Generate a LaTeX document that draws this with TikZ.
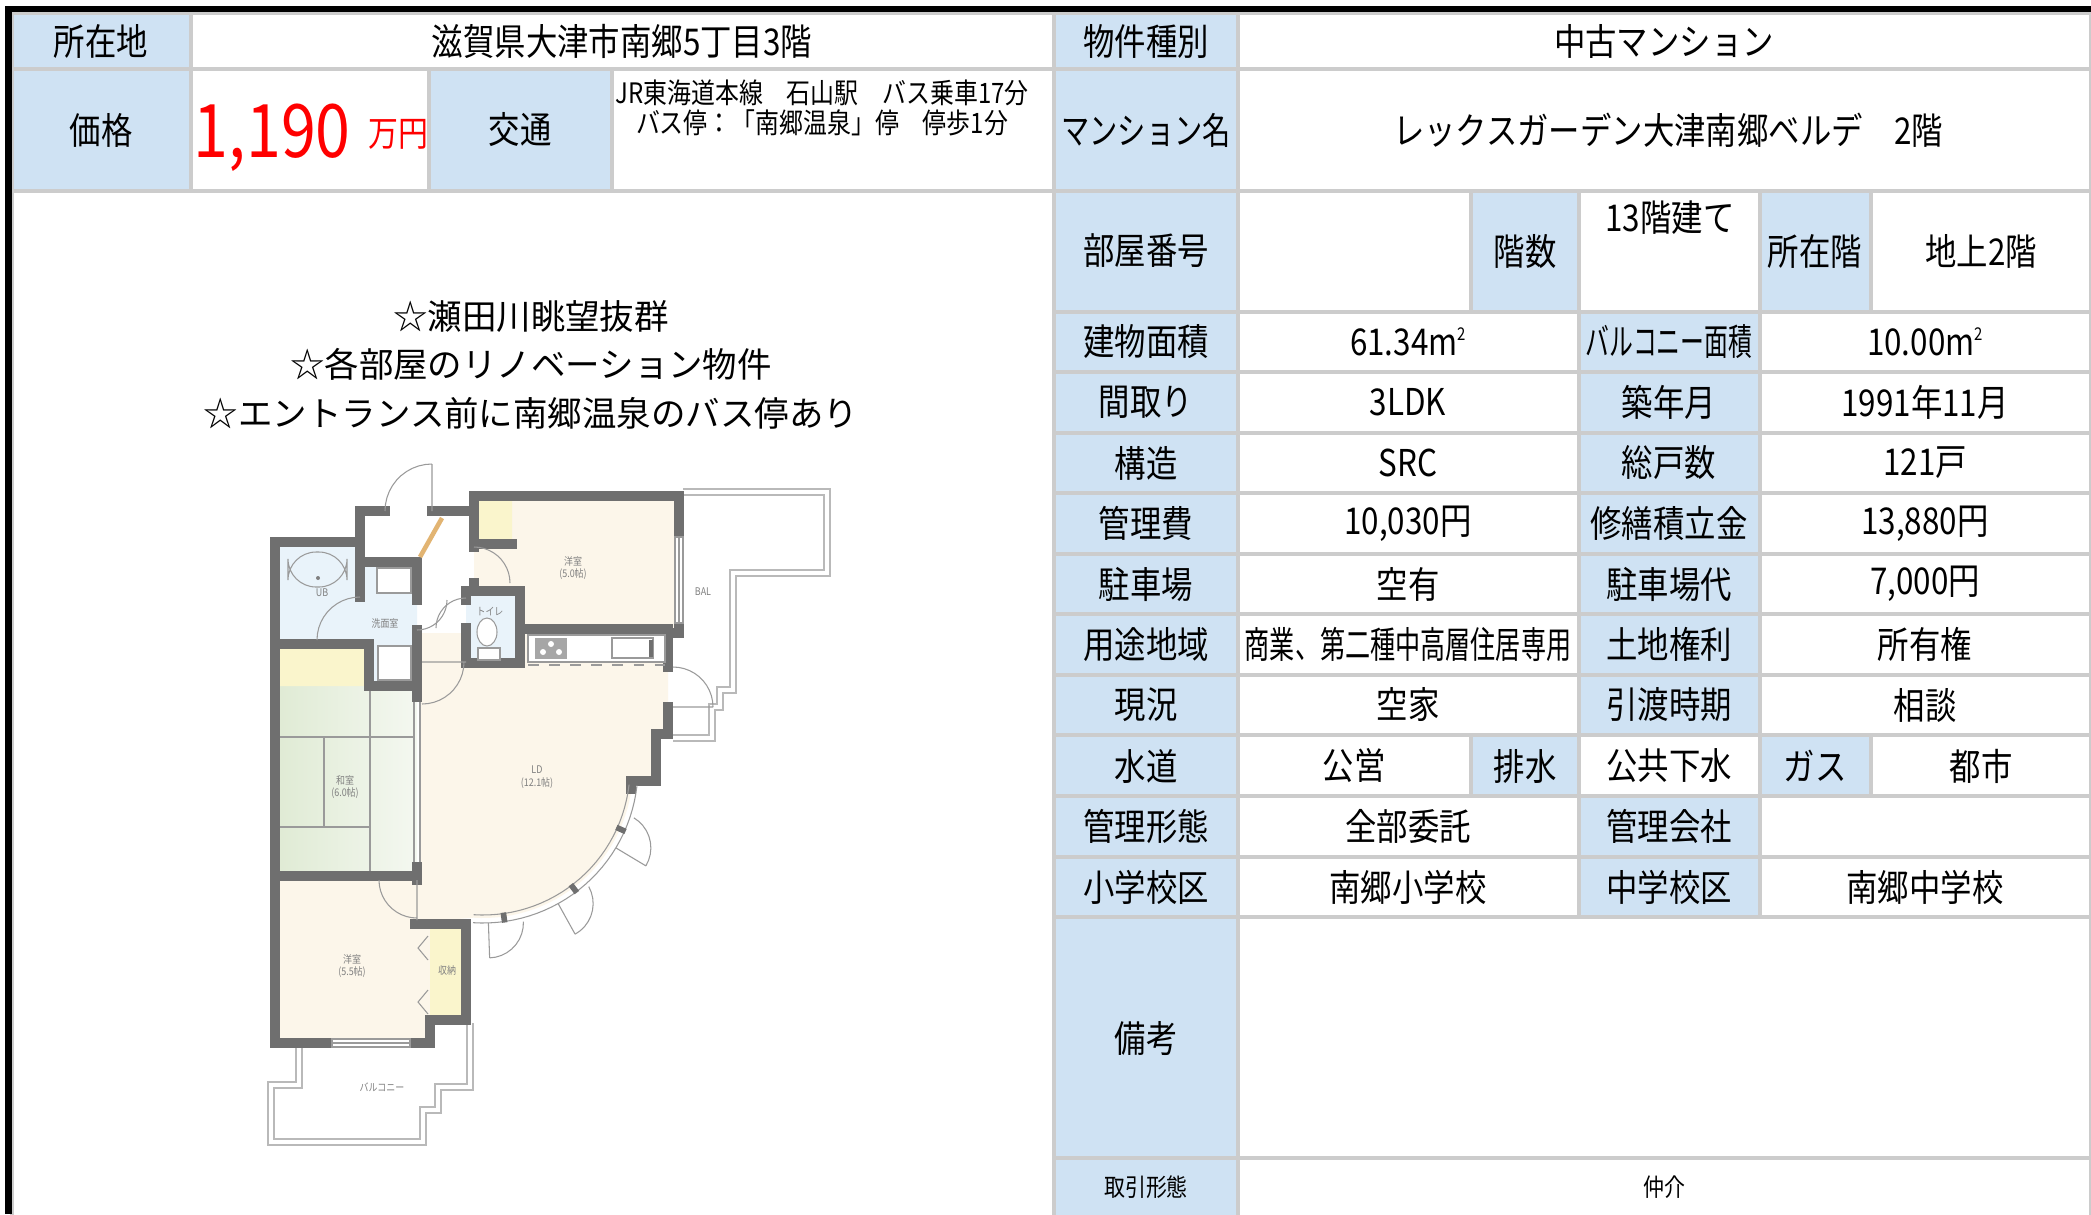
\documentclass[tikz,border=0pt]{standalone}
\usepackage{fontspec}
\usepackage{graphicx}
\setmainfont{Noto Sans CJK JP}[FakeStretch=0.85]
\newfontfamily\headfont{Noto Sans CJK JP}
\definecolor{labblue}{HTML}{CFE2F3}
\definecolor{gridgray}{HTML}{CCCCCC}
\definecolor{wallgray}{HTML}{6F6F6F}
\definecolor{cream}{HTML}{FCF6EA}
\definecolor{tatami}{HTML}{E0EBD5}
\definecolor{wet}{HTML}{E9F3FA}
\definecolor{closet}{HTML}{FAF5CC}
\definecolor{planline}{HTML}{9A9A9A}
\definecolor{kante}{HTML}{E2B472}
\newcommand\sqm{\raisebox{4.2pt}{\fontsize{5}{5}\selectfont 2}}
\begin{document}
\begin{tikzpicture}[x=0.01cm,y=-0.01cm,
	lab/.style={fill=labblue,draw=gridgray,line width=0.9pt},
	val/.style={draw=gridgray,line width=0.9pt},
	tab/.style={font=\fontsize{10.5}{12}\selectfont,inner sep=0pt},
	small/.style={font=\fontsize{8}{10}\selectfont,inner sep=0pt},
	wall/.style={draw=wallgray,line width=2.6pt,line cap=rect},
	fine/.style={draw=planline,line width=0.3pt},
	bal/.style={draw=gray!55,double=white,double distance=1.4pt,line width=0.45pt},
	plantxt/.style={font=\fontsize{3}{3.6}\selectfont,text=gray,inner sep=0pt,align=center}]
\useasboundingbox (0,0) rectangle (2091,1214);
\fill[white] (0,0) rectangle (2091,1214);
% Kopf links
\path[lab] (12,13) rectangle (191,69); \path[val] (191,13) rectangle (1054,69);
\path[lab] (12,69) rectangle (191,191); \path[val] (191,69) rectangle (429,191);
\path[lab] (429,69) rectangle (612,191); \path[val] (612,69) rectangle (1054,191);
\path[val] (12,191) rectangle (1054,1230);
\node[tab] (ort) at (101,41) {所在地};
\node[tab] (adresse) at (622,41) {滋賀県大津市南郷5丁目3階};
\node[tab] (preis) at (101,130) {価格};
\node[tab,text=red,anchor=base] (betrag) at (311,157) {{\fontsize{21}{21}\selectfont 1,190}\hspace{5pt}\raisebox{3pt}{\fontsize{10}{10}\selectfont 万円}};
\node[tab] (verkehr) at (520,130) {交通};
\node[small] (linie) at (822,93) {JR東海道本線　石山駅　バス乗車17分};
\node[small] (halt) at (822,123) {バス停：「南郷温泉」停　停歩1分};
% Tabelle rechts
\path[lab] (1054,13) rectangle (1238,69); \path[val] (1238,13) rectangle (2091,69);
\path[lab] (1054,69) rectangle (1238,191); \path[val] (1238,69) rectangle (2091,191);
\node[tab] (art) at (1146,41) {物件種別};
\node[tab] (artw) at (1664,41) {中古マンション};
\node[tab] (name) at (1146,130) {\scalebox{0.9}[1]{マンション名}};
\node[tab] (namew) at (1668,130) {レックスガーデン大津南郷ベルデ　2階};
\path[lab] (1054,191) rectangle (1238,312); \path[val] (1238,191) rectangle (1471,312);
\path[lab] (1471,191) rectangle (1579,312); \path[val] (1579,191) rectangle (1760,312);
\path[lab] (1760,191) rectangle (1871,312); \path[val] (1871,191) rectangle (2091,312);
\node[tab] (zimmer) at (1146,251) {部屋番号};
\node[tab] (stock) at (1525,251) {階数};
\node[tab] (stockw) at (1670,218) {13階建て};
\node[tab] (lage) at (1815,251) {所在階};
\node[tab] (lagew) at (1981,251) {地上2階};
\foreach \ya/\yb/\la/\va/\lb/\vb [count=\i] in {
	312/372/建物面積/{61.34m\sqm}/{\scalebox{0.76}[1]{バルコニー面積}}/{10.00m\sqm},
	372/433/間取り/3LDK/築年月/1991年11月,
	433/493/構造/SRC/総戸数/121戸,
	493/554/管理費/{10,030円}/修繕積立金/{13,880円},
	554/614/駐車場/空有/駐車場代/{7,000円},
	614/675/用途地域/{\scalebox{0.8}[1]{商業、第二種中高層住居専用}}/土地権利/所有権,
	675/735/現況/空家/引渡時期/相談,
	796/857/管理形態/全部委託/管理会社/{},
	857/917/小学校区/南郷小学校/中学校区/南郷中学校}{
	\path[lab] (1054,\ya) rectangle (1238,\yb); \path[val] (1238,\ya) rectangle (1579,\yb);
	\path[lab] (1579,\ya) rectangle (1760,\yb); \path[val] (1760,\ya) rectangle (2091,\yb);
	\node[tab] (la\i) at (1146,{(\ya+\yb)/2}) {\la};
	\node[tab] (va\i) at (1408,{(\ya+\yb)/2}) {\va};
	\node[tab] (lb\i) at (1669,{(\ya+\yb)/2}) {\lb};
	\node[tab] (vb\i) at (1925,{(\ya+\yb)/2}) {\vb};
}
\path[lab] (1054,735) rectangle (1238,796); \path[val] (1238,735) rectangle (1471,796);
\path[lab] (1471,735) rectangle (1579,796); \path[val] (1579,735) rectangle (1760,796);
\path[lab] (1760,735) rectangle (1871,796); \path[val] (1871,735) rectangle (2091,796);
\node[tab] (wasser) at (1146,766) {水道};
\node[tab] (wasserw) at (1354,766) {公営};
\node[tab] (abw) at (1525,766) {排水};
\node[tab] (abww) at (1669,766) {公共下水};
\node[tab] (gas) at (1815,766) {ガス};
\node[tab] (gasw) at (1981,766) {都市};
\path[lab] (1054,917) rectangle (1238,1158); \path[val] (1238,917) rectangle (2091,1158);
\path[lab] (1054,1158) rectangle (1238,1230); \path[val] (1238,1158) rectangle (2091,1230);
\node[tab] (bem) at (1146,1038) {備考};
\node[tab,font=\fontsize{7}{8}\selectfont] (handel) at (1146,1187) {取引形態};
\node[tab,font=\fontsize{7}{8}\selectfont] (handelw) at (1664,1187) {仲介};
% Werbetext
\node[inner sep=0pt,font=\headfont\fontsize{9.8}{12}\selectfont] (punkt1) at (531,317) {☆瀬田川眺望抜群};
\node[inner sep=0pt,font=\headfont\fontsize{9.8}{12}\selectfont] (punkt2) at (531,364) {☆各部屋のリノベーション物件};
\node[inner sep=0pt,font=\headfont\fontsize{9.8}{12}\selectfont] (punkt3) at (531,413) {☆エントランス前に南郷温泉のバス停あり};
% Grundriss
\fill[cream] (420,633) -- (668,633) -- (668,734) -- (656,734) -- (656,781) -- (631,781) -- (632,785)
	-- plot[domain=6.5:93.7,samples=30] ({483+150*cos(\x)},{768+150*sin(\x)}) -- (420,922) -- cycle;
\fill[cream] (474,496) rectangle (679,629) (280,876) rectangle (430,1043) (430,924) rectangle (466,1020);
\shade[left color=tatami,right color=tatami!35!white] (280,686) rectangle (417,876);
\fill[wet] (280,542) rectangle (360,644) (360,562) rectangle (417,686) (466,591) rectangle (520,663);
\fill[closet] (280,644) rectangle (369,686) (474,496) rectangle (512,544) (430,924) rectangle (462,1020);
\draw[fine] (280,737) -- (413,737) (324,737) -- (324,827) (280,827) -- (370,827) (370,690) -- (370,876);
\draw[fine] (414,697) -- (414,867) (420,697) -- (420,867);
\draw[bal] (683,492) -- (827,492) -- (827,573) -- (733,573) -- (733,690) -- (720,690) -- (720,707) -- (712,707) -- (712,738) -- (673,738);
\draw[bal] (299,1047) -- (299,1085) -- (271,1085) -- (271,1142) -- (423,1142) -- (423,1110) -- (438,1110) -- (438,1087) -- (470,1087) -- (470,1023);
\draw[wall] (360,597) -- (360,511) -- (385,511) (432,511) -- (474,511) (474,547) -- (474,496) -- (679,496) -- (679,537)
	(679,623) -- (679,633) -- (668,633) -- (668,667) (668,707) -- (668,734) -- (656,734) -- (656,781) -- (631,781) -- (631,789)
	(360,542) -- (275,542) -- (275,1043) -- (332,1043) (410,1043) -- (430,1043) -- (430,1020) -- (466,1020) -- (466,924) -- (415,924)
	(474,544) -- (512,544) (275,644) -- (369,644) -- (369,686) -- (417,686) (364,562) -- (417,562) -- (417,600) (417,630) -- (417,697)
	(474,583) -- (474,591) -- (520,591) -- (520,663) -- (466,663) -- (466,628) (466,600) -- (466,591)
	(520,629) -- (668,629) (275,876) -- (417,876) (417,867) -- (417,880);
\draw[fine,fill=white] (675,537) rectangle (683,623) (332,1039) rectangle (410,1047);
\draw[fine] (679,537) -- (679,623) (332,1043) -- (410,1043);
\draw[fine] plot[domain=6.5:93.7,samples=30] ({483+147*cos(\x)},{768+147*sin(\x)});
\draw[fine] plot[domain=6.5:93.7,samples=30] ({483+155*cos(\x)},{768+155*sin(\x)});
\foreach \w in {24,53,82} \draw[wall,line width=1.6pt,line cap=butt] ({483+146*cos(\w)},{768+146*sin(\w)}) -- ({483+156*cos(\w)},{768+156*sin(\w)});
\foreach \w [evaluate=\w as \v using \w-90] in {31,61,88}
	\draw[fine] ({483+155*cos(\w)},{768+155*sin(\w)}) -- ({483+190*cos(\w)},{768+190*sin(\w)})
	plot[domain=\v:\w,samples=10] ({483+155*cos(\w)+35*cos(\x)},{768+155*sin(\w)+35*sin(\x)});
% Tueren
\draw[fine] (432,511) -- (432,464) plot[domain=180:270,samples=12] ({432+47*cos(\x)},{511+47*sin(\x)});
\draw[fine] plot[domain=180:270,samples=12] ({360+43*cos(\x)},{640+43*sin(\x)});
\draw[fine] plot[domain=0:90,samples=12] ({417+30*cos(\x)},{600+30*sin(\x)});
\draw[fine] plot[domain=180:270,samples=12] ({466+30*cos(\x)},{628+30*sin(\x)});
\draw[fine] plot[domain=270:360,samples=12] ({474+36*cos(\x)},{583+36*sin(\x)});
\draw[fine] (422,662) -- (466,662) plot[domain=0:90,samples=12] ({422+42*cos(\x)},{662+42*sin(\x)});
\draw[fine] (417,880) -- (417,920) plot[domain=90:180,samples=12] ({417+38*cos(\x)},{880+38*sin(\x)});
\draw[fine] (673,707) -- (713,707) plot[domain=270:360,samples=12] ({673+40*cos(\x)},{707+40*sin(\x)});
\draw[fine] (428,936) -- (418,948) -- (428,960) (428,990) -- (418,1002) -- (428,1014);
\draw[draw=kante,line width=1.3pt] (420,557) -- (442,518);
% Einrichtung
\draw[fine,rounded corners=8] (288,552) rectangle (347,587); \fill[gray] (318,578) circle (2);
\draw[fine,fill=white] (377,568) rectangle (411,593) (378,646) rectangle (411,680);
\draw[fine,fill=white] (487,632) ellipse [x radius=10,y radius=14]; \draw[fine,fill=white] (478,648) rectangle (500,660);
\draw[fine,fill=white] (528,635) rectangle (665,662); \draw[fine,dashed] (528,665) -- (665,665);
\fill[gray!70] (535,638) rectangle (567,659); \fill[white] (543,652) circle (3) (559,652) circle (3) (551,644) circle (3);
\draw[fine] (612,638) rectangle (653,658); \draw[wallgray,line width=1pt] (651,640) -- (651,657);
\node[plantxt] (yoshitsu1) at (573,568) {洋室\\(5.0帖)};
\node[plantxt] (ld) at (537,777) {LD\\(12.1帖)};
\node[plantxt] (washitsu) at (345,787) {和室\\(6.0帖)};
\node[plantxt] (yoshitsu2) at (352,966) {洋室\\(5.5帖)};
\node[plantxt] (shuno) at (447,970) {収納};
\node[plantxt] (toire) at (490,612) {トイレ};
\node[plantxt] (senmen) at (385,623) {洗面室};
\node[plantxt] (ub) at (322,593) {UB};
\node[plantxt] (bal) at (703,592) {BAL};
\node[plantxt] (balkon) at (382,1087) {バルコニー};
% Rahmen
\fill (5,6) rectangle (2091,12); \fill (5,6) rectangle (12,1214);
\end{tikzpicture}
\end{document}
